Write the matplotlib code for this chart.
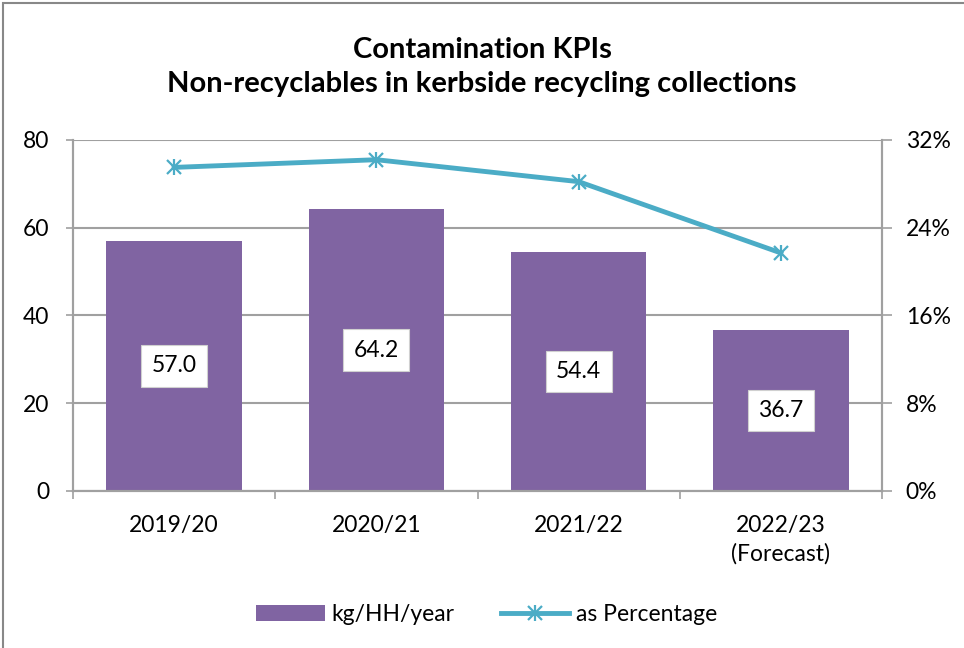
import numpy as np
import matplotlib.pyplot as plt
from matplotlib.legend_handler import HandlerTuple
from matplotlib.ticker import PercentFormatter

categories = ["2019/20", "2020/21", "2021/22", "2022/23\n(Forecast)"]
kg_per_hh = [57.0, 64.2, 54.4, 36.7]
pct = [29.5, 30.2, 28.2, 21.7]

bar_color = "#8064A2"
line_color = "#4BACC6"
grid_color = "#A0A0A0"

plt.rcParams['font.family'] = ['Lato', 'DejaVu Sans']

fig = plt.figure(figsize=(9.64, 6.48), dpi=100)
ax = fig.add_axes([0.0757, 0.2423, 0.915 - 0.0757, 0.784 - 0.2423])
ax2 = ax.twinx()

x = np.arange(len(categories))
bars = ax.bar(x, kg_per_hh, width=0.67, color=bar_color, zorder=2, label="kg/HH/year")

for xi, v in zip(x, kg_per_hh):
    ax.text(xi, v / 2, f"{v:.1f}", ha="center", va="center", fontsize=16.5, zorder=4,
            bbox=dict(boxstyle="square,pad=0.45", fc="white", ec="#D0D0D0", lw=0.8))

ax.set_xlim(-0.5, len(categories) - 0.5)
ax.set_ylim(0, 80)
ax.set_yticks([0, 20, 40, 60, 80])
ax.yaxis.grid(True, color=grid_color, lw=1.5, zorder=0)
ax.set_axisbelow(True)
ax.set_xticks(x)
ax.set_xticklabels(categories, fontsize=16.5, linespacing=1.45)
ax.set_xticks(np.arange(-0.5, len(categories)), minor=True)
ax.tick_params(axis="x", which="major", length=0, pad=17)
ax.tick_params(axis="x", which="minor", length=6, width=1.2, color=grid_color)
ax.tick_params(axis="y", labelsize=16.5, length=5, width=1.2, color=grid_color, pad=12)

line, = ax2.plot(x, pct, color=line_color, lw=3.5, marker="x", ms=10, mew=1.6, zorder=3)
vbar, = ax2.plot(x, pct, ls="none", marker="|", ms=12, mew=1.6, color=line_color, zorder=3)
ax2.set_ylim(0, 32)
ax2.set_yticks([0, 8, 16, 24, 32])
ax2.yaxis.set_major_formatter(PercentFormatter(decimals=0))
ax2.tick_params(axis="y", labelsize=16.5, length=7, width=1.2, color=grid_color, pad=10)

for a in (ax, ax2):
    a.spines["top"].set_visible(False)
    for s in ("left", "right", "bottom"):
        a.spines[s].set_color(grid_color)
        a.spines[s].set_linewidth(1.5)

fig.text(0.5, 0.897, "Contamination KPIs\nNon-recyclables in kerbside recycling collections",
         ha="center", va="center", fontsize=21, fontweight="bold", linespacing=1.4)

fig.legend([bars, (line, vbar)], ["kg/HH/year", "as Percentage"],
           handler_map={tuple: HandlerTuple(ndivide=1)},
           loc="center", bbox_to_anchor=(0.505, 0.052), ncol=2, frameon=False,
           fontsize=16.5, handlelength=3.0, handletextpad=0.3, columnspacing=2.0)

fig.patches.append(plt.Rectangle((0.003, -0.01), 1.5, 1.005, transform=fig.transFigure,
                                 fill=False, ec="#888888", lw=1.5))

fig.savefig("out.png", dpi=100)
